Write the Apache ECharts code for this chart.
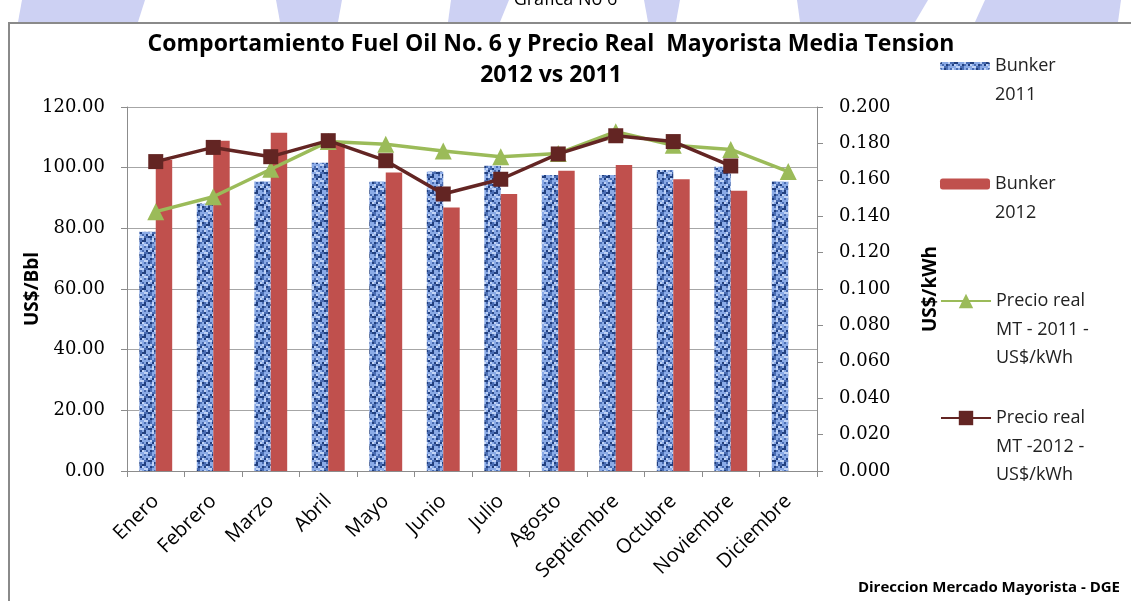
<!DOCTYPE html>
<html>
<head>
<meta charset="utf-8">
<title>Grafica No 6</title>
<script src="https://cdn.jsdelivr.net/npm/echarts@6/dist/echarts.min.js"></script>
<style>
  html, body { margin: 0; padding: 0; background: #fff; }
  #main { width: 1131px; height: 601px; }
</style>
</head>
<body>
<div id="main"></div>
<script>
// datos
const meses = ['Enero', 'Febrero', 'Marzo', 'Abril', 'Mayo', 'Junio', 'Julio', 'Agosto', 'Septiembre', 'Octubre', 'Noviembre', 'Diciembre']
const bunker2011 = [78.9, 88.2, 95.4, 101.6, 95.4, 98.7, 100.6, 97.6, 97.6, 99.2, 100.3, 95.4]
const bunker2012 = [102.5, 108.9, 111.5, 108.5, 98.4, 86.9, 91.3, 99.0, 100.9, 96.2, 92.4, null]
const precio2011 = [0.1425, 0.1507, 0.1658, 0.181, 0.1795, 0.1758, 0.1727, 0.1745, 0.1864, 0.179, 0.1767, 0.1645]
const precio2012 = [0.170, 0.1778, 0.1727, 0.1815, 0.1705, 0.1522, 0.1603, 0.1742, 0.1842, 0.181, 0.1676, null]

// textura azul moteada de las barras 2011
function texturaAzul() {
  const c = document.createElement('canvas')
  c.width = 16
  c.height = 16
  const ctx = c.getContext('2d')
  ctx.fillStyle = '#8aaae6'
  ctx.fillRect(0, 0, 16, 16)
  for (let i = 0; i < 8; i++) {
    for (let j = 0; j < 8; j++) {
      const k = (i * 5 + j * 3 + ((i * j) % 4)) % 7
      let col = null
      if (k === 0) col = '#213f7e'
      else if (k === 2 || k === 4) col = '#4a6db3'
      else if (k === 6) col = '#c0d3f6'
      if (col) {
        ctx.fillStyle = col
        ctx.fillRect(i * 2, j * 2, 2, 2)
      }
    }
  }
  return c
}

const azul = { image: texturaAzul(), repeat: 'repeat' }
const sans = 'Open Sans'
const serif = 'DejaVu Serif'

var myChart = echarts.init(document.getElementById('main'))

function leyenda(nombre, top, h, lineas) {
  return {
    data: [nombre],
    left: 940,
    top: top,
    padding: 0,
    itemWidth: 50,
    itemHeight: h,
    itemGap: 3,
    selectedMode: false,
    formatter: function () {
      return '\n'.repeat(lineas.length - 1) + lineas.join('\n')
    },
    textStyle: { fontFamily: sans, fontSize: 18, lineHeight: 28.5, color: '#222' }
  }
}

var option = {
  animation: false,
  backgroundColor: '#fff',
  title: {
    text: 'Comportamiento Fuel Oil No. 6 y Precio Real  Mayorista Media Tension\n2012 vs 2011',
    left: 551,
    top: 29,
    padding: 0,
    textAlign: 'center',
    textStyle: { fontFamily: sans, fontSize: 23, fontWeight: 'bold', lineHeight: 31, color: '#000' }
  },
  legend: [
    leyenda('Bunker 2011', 66 - 42.75, 8, ['Bunker', '2011']),
    leyenda('Bunker 2012', 184 - 42.75, 11, ['Bunker', '2012']),
    leyenda('Precio real MT - 2011 - US$/kWh', 301 - 71.25, 18, ['Precio real', 'MT - 2011 -', 'US$/kWh']),
    leyenda('Precio real MT -2012 - US$/kWh', 418 - 71.25, 18, ['Precio real', 'MT -2012 -', 'US$/kWh'])
  ],
  grid: { left: 127, right: 314, top: 107, bottom: 130 },
  xAxis: {
    type: 'category',
    data: meses,
    axisLine: { lineStyle: { color: '#8c8c8c', width: 1 } },
    axisTick: { show: true, length: 6, lineStyle: { color: '#8c8c8c' } },
    axisLabel: { rotate: 45, margin: 27, fontFamily: sans, fontSize: 20, color: '#000' }
  },
  yAxis: [
    {
      type: 'value',
      min: 0,
      max: 120,
      interval: 20,
      name: 'US$/Bbl',
      nameLocation: 'middle',
      nameGap: 85,
      nameMoveOverlap: false,
      nameTextStyle: { fontFamily: sans, fontSize: 19, fontWeight: 'bold', color: '#000' },
      axisLine: { show: true, lineStyle: { color: '#8c8c8c' } },
      axisTick: { show: true, length: 6, lineStyle: { color: '#8c8c8c' } },
      splitLine: { lineStyle: { color: '#a6a6a6', width: 1 } },
      axisLabel: {
        margin: 22,
        fontFamily: serif,
        fontSize: 18,
        color: '#000',
        formatter: (v) => v.toFixed(2)
      }
    },
    {
      type: 'value',
      min: 0,
      max: 0.2,
      interval: 0.02,
      name: 'US$/kWh',
      nameLocation: 'middle',
      nameGap: 104,
      nameMoveOverlap: false,
      nameTextStyle: { fontFamily: sans, fontSize: 19, fontWeight: 'bold', color: '#000' },
      axisLine: { show: true, lineStyle: { color: '#8c8c8c' } },
      axisTick: { show: true, length: 6, lineStyle: { color: '#8c8c8c' } },
      splitLine: { show: false },
      axisLabel: {
        margin: 22,
        fontFamily: serif,
        fontSize: 18,
        color: '#000',
        formatter: (v) => v.toFixed(3)
      }
    }
  ],
  series: [
    {
      name: 'Bunker 2011',
      type: 'bar',
      data: bunker2011,
      barWidth: '28.6%',
      barGap: '0%',
      itemStyle: { color: azul }
    },
    {
      name: 'Bunker 2012',
      type: 'bar',
      data: bunker2012,
      barWidth: '28.6%',
      barGap: '0%',
      itemStyle: { color: '#c0504d' }
    },
    {
      name: 'Precio real MT - 2011 - US$/kWh',
      type: 'line',
      yAxisIndex: 1,
      data: precio2011,
      symbol: 'triangle',
      symbolSize: 17,
      lineStyle: { color: '#9bbb59', width: 3.5 },
      itemStyle: { color: '#9bbb59' }
    },
    {
      name: 'Precio real MT -2012 - US$/kWh',
      type: 'line',
      yAxisIndex: 1,
      data: precio2012,
      symbol: 'rect',
      symbolSize: 15,
      lineStyle: { color: '#632523', width: 3.5 },
      itemStyle: { color: '#632523' }
    }
  ],
  graphic: [
    // marcas de agua de la pagina
    { type: 'polygon', silent: true, z: -10, shape: { points: [[22, 0], [145, 0], [138, 22], [18, 22]] }, style: { fill: '#cdd1f3' } },
    { type: 'polygon', silent: true, z: -10, shape: { points: [[276, 0], [342, 0], [338, 22], [280, 22]] }, style: { fill: '#cdd1f3' } },
    { type: 'polygon', silent: true, z: -10, shape: { points: [[451, 0], [509, 0], [500, 22], [448, 22]] }, style: { fill: '#cdd1f3' } },
    { type: 'polygon', silent: true, z: -10, shape: { points: [[644, 0], [680, 0], [676, 22], [648, 22]] }, style: { fill: '#cdd1f3' } },
    { type: 'polygon', silent: true, z: -10, shape: { points: [[797, 0], [928, 0], [915, 22], [800, 22]] }, style: { fill: '#cdd1f3' } },
    { type: 'polygon', silent: true, z: -10, shape: { points: [[985, 0], [1121, 0], [1118, 22], [975, 22]] }, style: { fill: '#cdd1f3' } },
    {
      type: 'text',
      left: 'center',
      top: -9,
      style: { text: 'Grafica No 6', font: '18px "Open Sans"', fill: '#000' }
    },
    // marco del grafico
    {
      type: 'polyline',
      silent: true,
      shape: { points: [[9, 601], [9, 23], [1131, 23]] },
      style: { stroke: '#8a8a8a', lineWidth: 2, fill: null }
    },
    {
      type: 'text',
      right: 11,
      top: 580,
      style: { text: 'Direccion Mercado Mayorista - DGE', font: 'bold 15px "Open Sans"', fill: '#000' }
    }
  ]
}

myChart.setOption(option)
window.onresize = function () {
  myChart.resize()
}
</script>
</body>
</html>
